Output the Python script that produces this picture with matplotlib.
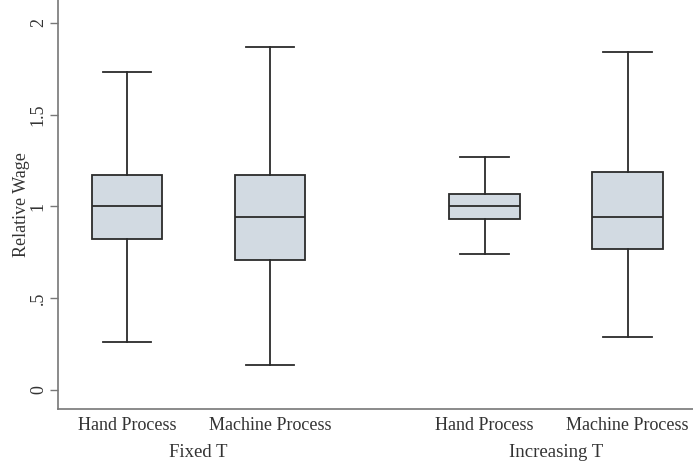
import matplotlib.pyplot as plt

# Box statistics (relative wage)
groups = ["Fixed T", "Increasing T"]
labels = ["Hand Process", "Machine Process", "Hand Process", "Machine Process"]
positions = [1, 2, 3.5, 4.5]
whislo = [0.26, 0.136, 0.74, 0.29]
q1 = [0.82, 0.71, 0.93, 0.77]
med = [1.0, 0.94, 1.0, 0.94]
q3 = [1.17, 1.17, 1.07, 1.19]
whishi = [1.73, 1.87, 1.27, 1.84]

plt.rcParams["font.family"] = ["Liberation Serif", "DejaVu Serif"]

fig = plt.figure(figsize=(6.93, 4.62), dpi=100)
ax = fig.add_axes([58 / 693, 53 / 462, 635 / 693, 409 / 462])

stats = []
for i in range(len(labels)):
    stats.append({"whislo": whislo[i], "q1": q1[i], "med": med[i],
                  "q3": q3[i], "whishi": whishi[i], "fliers": []})

dark = "#2b2b2b"
ax.bxp(stats, positions=positions, widths=0.49, patch_artist=True,
       showfliers=False,
       boxprops=dict(facecolor="#d2dae2", edgecolor=dark, linewidth=1.3),
       medianprops=dict(color=dark, linewidth=1.3),
       whiskerprops=dict(color=dark, linewidth=1.3),
       capprops=dict(color=dark, linewidth=1.3),
       capwidths=0.34)

ax.set_xlim(0.517, 4.958)
ax.set_ylim(-0.104, 2.125)

ax.set_yticks([0, 0.5, 1, 1.5, 2])
ax.set_yticklabels(["0", ".5", "1", "1.5", "2"], rotation=90, va="center")
ax.tick_params(axis="y", length=6, width=1, color="#777777", labelsize=13,
               pad=2, labelcolor="#333333")
ax.set_xticks(positions)
ax.set_xticklabels(labels)
ax.tick_params(axis="x", length=0, labelsize=13, pad=6, labelcolor="#333333")

for g, x in zip(groups, [1.5, 4.0]):
    ax.text(x, -0.34, g, ha="center", va="center", fontsize=13.5, color="#333333")

ax.set_ylabel("Relative Wage", fontsize=13, color="#333333", labelpad=0)

for s in ["top", "right"]:
    ax.spines[s].set_visible(False)
for s in ["left", "bottom"]:
    ax.spines[s].set_color("#777777")
    ax.spines[s].set_linewidth(1.2)

fig.savefig("out.png", dpi=100)
